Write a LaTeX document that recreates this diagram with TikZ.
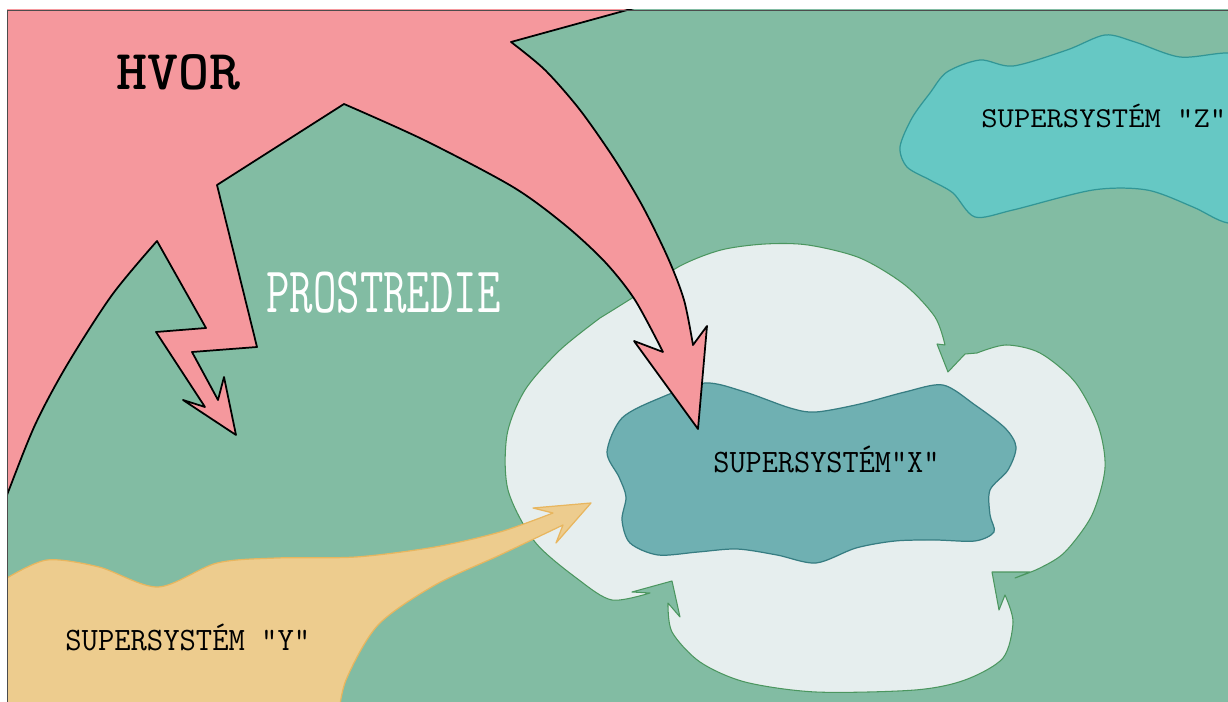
\documentclass[tikz,border=0pt]{standalone}
\usepackage{fontspec}
\usepackage{tikz}

\definecolor{prostredie}{RGB}{130,188,163}
\definecolor{hvor}{RGB}{245,152,157}
\definecolor{oblak}{RGB}{230,238,238}
\definecolor{oblakline}{RGB}{75,150,95}
\definecolor{sysx}{RGB}{111,176,178}
\definecolor{sysxline}{RGB}{55,125,130}
\definecolor{sysz}{RGB}{102,200,196}
\definecolor{syszline}{RGB}{50,150,150}
\definecolor{sysy}{RGB}{237,204,142}
\definecolor{sysyline}{RGB}{232,182,95}

\begin{document}
\begin{tikzpicture}[x=0.02cm, y=-0.02cm, line join=round,
    lbl/.style={inner sep=0pt, anchor=base west, font=\ttfamily}]
        \useasboundingbox (0,0) rectangle (1228,702);
        \fill[white] (0,0) rectangle (1228,702);

        \begin{scope}
        \clip (7,10) rectangle (1228,702);
        % Prostredie
        \fill[prostredie] (0,0) rectangle (1240,710);

        % Supersystem Z
        \filldraw[fill=sysz, draw=syszline, line width=0.7pt]
            plot[smooth cycle] coordinates {(900,147) (912,118) (930,93) (947,72) (980,60)
            (1013,66) (1067,50) (1105,35) (1135,42) (1180,57) (1228,53) (1270,60)
            (1270,220) (1228,223) (1193,207) (1147,190) (1093,190) (1013,210)
            (975,217) (953,193) (930,180) (907,167)};

        % Oblak okolo X
        \filldraw[fill=oblak, draw=oblakline, line width=0.6pt]
            plot[smooth] coordinates {(600,318) (640,293) (680,266) (721,250) (765,244)
                (808,245) (860,258) (905,285) (935,317) (945,345)}
            -- (937,344) -- (948,372) -- (965,354) -- (977,353)
            -- plot[smooth] coordinates {(977,353) (1006,345) (1040,353) (1075,382)
                (1098,425) (1105,468) (1092,515) (1065,552) (1040,568) (1015,578)}
            -- (1030,572) -- (992,572) -- (999,610) -- (1005,595)
            -- plot[smooth] coordinates {(1005,595) (1013,622) (1003,658) (965,680)
                (915,690) (816,692) (745,682) (700,662) (672,632) (668,603)}
            -- (680,617) -- (672,581) -- (632,592) -- (650,593)
            -- plot[smooth] coordinates {(650,593) (612,600) (579,580) (535,542)
                (508,490) (507,435) (525,390) (560,350) (600,318)}
            -- cycle;

        % Supersystem X
        \filldraw[fill=sysx, draw=sysxline, line width=0.7pt]
            plot[smooth cycle] coordinates {(607,452) (622,418) (660,398) (705,383)
            (745,392) (790,408) (816,412) (860,404) (905,392) (943,385) (975,405)
            (1005,428) (1016,447) (1008,470) (990,490) (990,515) (994,532) (975,541)
            (935,540) (895,541) (856,548) (816,563) (777,555) (737,549) (698,552)
            (658,555) (630,543) (622,520) (626,497) (619,477)};

        % Supersystem Y
        \filldraw[fill=sysy, draw=sysyline, line width=0.7pt]
            (-10,590) -- plot[smooth] coordinates {(7,578) (47,560) (99,567) (158,587)
                (217,563) (277,558) (356,557) (435,547) (500,532) (553,513)}
            -- (533,508) -- (591,503) -- (556,543) -- (563,525)
            -- plot[smooth] coordinates {(563,525) (500,555) (435,585) (378,625)
                (346,680) (338,720)}
            -- (-10,720) -- cycle;

        % Hvor
        \filldraw[fill=hvor, draw=black, line width=1pt]
            (-10,-10) -- (700,-10) -- (511,42)
            -- plot[smooth] coordinates {(511,42) (545,70) (580,110) (615,160)
                (643,207) (668,258) (684,300) (693,345)}
            -- (707,326) -- (698,429) -- (634,341) -- (663,352)
            -- plot[smooth] coordinates {(663,352) (635,300) (605,262) (565,225)
                (513,187) (424,140) (344,104)}
            -- (217,185) -- (257,347) -- (192,352) -- (218,400) -- (224,377)
            -- (236,435) -- (183,400) -- (205,407) -- (156,332) -- (206,328)
            -- plot[smooth] coordinates {(157,241) (112,295) (67,365) (35,425)
                (7,495) (-10,540)}
            -- cycle;
        \end{scope}

        % Ramik
        \draw[black!70, line width=0.5pt] (7,710) -- (7,10) -- (1240,10);

        % Popisy
        \node[lbl, font=\ttfamily\bfseries\fontsize{32}{32}\selectfont] (hvortext) at (116,90)
            {\scalebox{1.05}[1]{HVOR}};
        \node[lbl, text=white, font=\ttfamily\fontsize{37}{37}\selectfont] (prostrtext) at (266,313)
            {\scalebox{0.7}[1]{PROSTREDIE}};
        \node[lbl, font=\ttfamily\fontsize{18.6}{18.6}\selectfont] (xtext) at (713,473)
            {\scalebox{0.96}[1]{SUPERSYSTÉM"X"}};
        \node[lbl, font=\ttfamily\fontsize{16.4}{16.4}\selectfont] (ztext) at (981,128)
            {\scalebox{1.1}[1]{SUPERSYSTÉM "Z"}};
        \node[lbl, font=\ttfamily\fontsize{18.6}{18.6}\selectfont] (ytext) at (65,650)
            {\scalebox{0.97}[1]{SUPERSYSTÉM "Y"}};
\end{tikzpicture}
\end{document}
